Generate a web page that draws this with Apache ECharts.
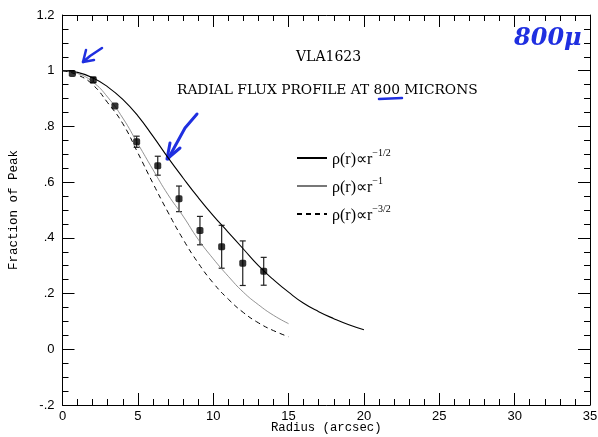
<!DOCTYPE html>
<html lang="en">
<head>
<meta charset="UTF-8">
<title>VLA1623 radial flux profile</title>
<script src="https://cdn.jsdelivr.net/npm/echarts@6/dist/echarts.min.js"></script>
<style>
  html, body { margin: 0; padding: 0; background: #fff; }
  #chart { width: 598px; height: 437px; }
</style>
</head>
<body>
<div id="chart"></div>
<script>
// model curves (radius in arcsec, fraction of peak)
var radiusA = [0,1,2,3,4,5,6,7,8,9,10,11,12,13,14,15,16,17,18,19,20];
var halfPower = [1.0,0.994,0.975,0.942,0.897,0.838,0.765,0.688,0.615,0.545,0.48,0.42,0.36,0.30,0.25,0.205,0.165,0.135,0.11,0.088,0.07];
var radiusB = [0,1,2,3,4,5,6,7,8,9,10,11,12,13,14,15];
var onePower = [1.0,0.99,0.96,0.905,0.83,0.738,0.645,0.555,0.478,0.395,0.325,0.262,0.205,0.16,0.122,0.092];
var threeHalfPower = [1.0,0.985,0.95,0.885,0.81,0.705,0.596,0.492,0.395,0.31,0.238,0.18,0.132,0.095,0.067,0.045];

// measured points
var obsX = [0.65,2.04,3.48,4.92,6.32,7.73,9.12,10.56,11.96,13.35];
var obsY = [0.99,0.967,0.873,0.745,0.659,0.54,0.426,0.368,0.309,0.28];
var obsErr = [0,0.01,0,0.02,0.034,0.046,0.051,0.077,0.08,0.05];

var yTickLabels = {'-0.2': '-.2', '0': '0', '0.2': '.2', '0.4': '.4', '0.6': '.6', '0.8': '.8', '1': '1', '1.2': '1.2'};

function zip(xs, ys) {
  return xs.map(function (x, i) { return [x, ys[i]]; });
}

var chart = echarts.init(document.getElementById('chart'));

var frameX = {
  type: 'value', min: 0, max: 35, interval: 5,
  axisLine: { onZero: false, lineStyle: { color: '#000', width: 1 } },
  axisTick: { inside: true, length: 12, lineStyle: { color: '#000' } },
  minorTick: { show: true, splitNumber: 5, length: 6, lineStyle: { color: '#000' } },
  splitLine: { show: false }
};
var frameY = {
  type: 'value', min: -0.2, max: 1.2, interval: 0.2,
  axisLine: { onZero: false, lineStyle: { color: '#000', width: 1 } },
  axisTick: { inside: true, length: 12, lineStyle: { color: '#000' } },
  minorTick: { show: true, splitNumber: 4, length: 6, lineStyle: { color: '#000' } },
  splitLine: { show: false }
};

var sup = {
  r: { fontFamily: 'Liberation Serif', fontSize: 16, color: '#000', lineHeight: 20, verticalAlign: 'bottom' },
  s: { fontFamily: 'Liberation Serif', fontSize: 10, color: '#000', lineHeight: 20, verticalAlign: 'top' }
};

chart.setOption({
  animation: false,
  grid: { left: 62.5, right: 8, top: 15, bottom: 32, outerBoundsMode: 'none' },
  title: [
    { text: 'VLA1623', left: 296, top: 50, padding: 0, textStyle: { fontFamily: 'DejaVu Serif', fontSize: 14, fontWeight: 'normal', color: '#000' } },
    { text: 'RADIAL FLUX PROFILE AT 800 MICRONS', left: 177, top: 83, padding: 0, textStyle: { fontFamily: 'DejaVu Serif', fontSize: 13.8, fontWeight: 'normal', color: '#000' } }
  ],
  legend: {
    orient: 'vertical', left: 296, top: 148, padding: 0, itemWidth: 30, itemHeight: 14, itemGap: 8,
    data: ['half', 'one', 'threehalf'],
    itemStyle: { opacity: 0 },
    formatter: function (name) {
      var p = { half: '\u22121/2', one: '\u22121', threehalf: '\u22123/2' }[name];
      return '{r|\u03c1(r)\u221dr}{s|' + p + '}';
    },
    textStyle: { rich: sup }
  },
  xAxis: [
    Object.assign({}, frameX, {
      position: 'bottom',
      name: 'Radius (arcsec)', nameLocation: 'middle', nameGap: 17, nameMoveOverlap: false,
      nameTextStyle: { fontFamily: 'Liberation Mono', fontSize: 12.3, color: '#000' },
      axisLabel: { margin: 5, fontFamily: 'Liberation Sans', fontSize: 13, color: '#000' }
    }),
    Object.assign({}, frameX, { position: 'top', axisLabel: { show: false } })
  ],
  yAxis: [
    Object.assign({}, frameY, {
      position: 'left',
      name: 'Fraction of Peak', nameLocation: 'middle', nameGap: 42, nameRotate: 90, nameMoveOverlap: false,
      nameTextStyle: { fontFamily: 'Liberation Mono', fontSize: 12.5, color: '#000' },
      axisLabel: {
        margin: 8, fontFamily: 'Liberation Sans', fontSize: 13, color: '#000',
        formatter: function (v) { return yTickLabels[String(Math.round(v * 10) / 10)]; }
      }
    }),
    Object.assign({}, frameY, { position: 'right', axisLabel: { show: false } })
  ],
  series: [
    {
      name: 'half', type: 'line', data: zip(radiusA, halfPower), smooth: true, showSymbol: false,
      symbol: 'none', lineStyle: { color: '#000', width: 1.1 }, itemStyle: { color: '#000' }
    },
    {
      name: 'one', type: 'line', data: zip(radiusB, onePower), smooth: true, showSymbol: false,
      symbol: 'none', lineStyle: { color: '#777', width: 0.8 }, itemStyle: { color: '#777' }
    },
    {
      name: 'threehalf', type: 'line', data: zip(radiusB, threeHalfPower), smooth: true, showSymbol: false,
      symbol: 'none', lineStyle: { color: '#000', width: 1, type: [5, 4] }, itemStyle: { color: '#000' }
    },
    {
      type: 'custom',
      data: obsX.map(function (x, i) { return [x, obsY[i], obsErr[i]]; }),
      renderItem: function (params, api) {
        var x = api.value(0), y = api.value(1), e = api.value(2);
        if (!e) return null;
        var top = api.coord([x, y + e]), bot = api.coord([x, y - e]);
        var st = { stroke: '#222', lineWidth: 1.2 };
        return {
          type: 'group',
          children: [
            { type: 'line', shape: { x1: top[0], y1: top[1], x2: bot[0], y2: bot[1] }, style: st },
            { type: 'line', shape: { x1: top[0] - 3, y1: top[1], x2: top[0] + 3, y2: top[1] }, style: st },
            { type: 'line', shape: { x1: bot[0] - 3, y1: bot[1], x2: bot[0] + 3, y2: bot[1] }, style: st }
          ]
        };
      },
      z: 3
    },
    {
      type: 'scatter', data: zip(obsX, obsY), symbol: 'roundRect', symbolSize: 7,
      itemStyle: { color: '#000' }, z: 4
    }
  ],
  graphic: [
    // blue pen annotations on the scanned figure
    { type: 'text', left: 514, top: 27, style: { text: '800\u03bc', fontFamily: 'DejaVu Serif', fontStyle: 'italic', fontWeight: 'bold', fontSize: 24, fill: '#1f2fe0' } },
    { type: 'line', shape: { x1: 379, y1: 99, x2: 402, y2: 98 }, style: { stroke: '#1f2fe0', lineWidth: 2.5, lineCap: 'round' } },
    { type: 'polyline', shape: { points: [[102, 48], [90, 56], [83, 62], [86, 50]] }, style: { stroke: '#1f2fe0', lineWidth: 2.5, fill: null, lineCap: 'round', lineJoin: 'round' } },
    { type: 'polyline', shape: { points: [[83, 62], [94, 60]] }, style: { stroke: '#1f2fe0', lineWidth: 2.5, lineCap: 'round' } },
    { type: 'polyline', shape: { points: [[197, 114], [185, 128], [168, 159]] }, style: { stroke: '#1f2fe0', lineWidth: 3, fill: null, lineCap: 'round', lineJoin: 'round' } },
    { type: 'polyline', shape: { points: [[170, 143], [167, 159], [180, 148]] }, style: { stroke: '#1f2fe0', lineWidth: 3, fill: null, lineCap: 'round', lineJoin: 'round' } }
  ]
});
</script>
</body>
</html>
